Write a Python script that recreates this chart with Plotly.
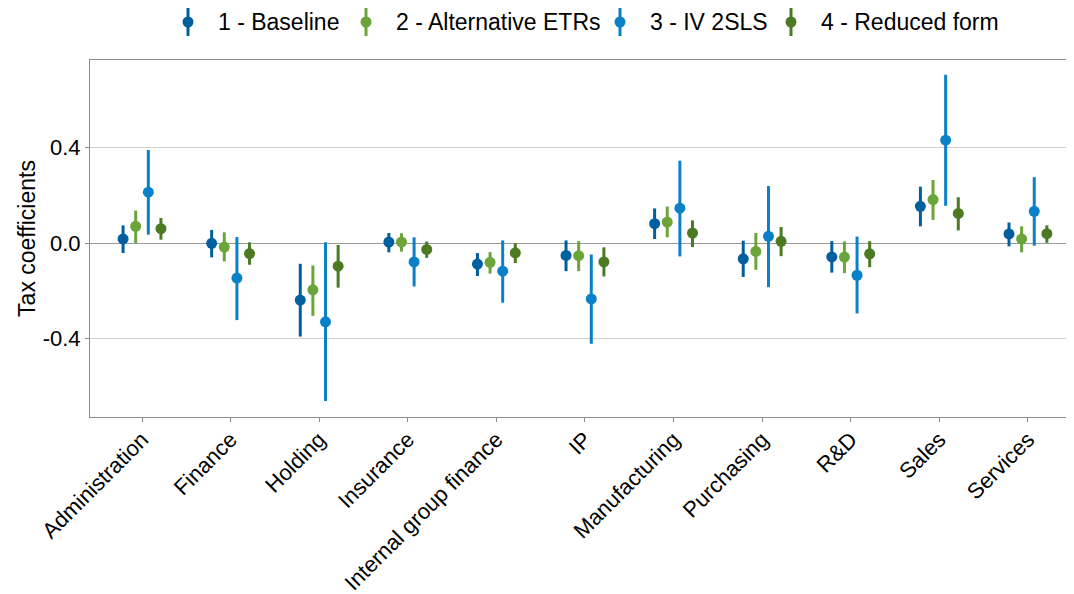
import plotly.graph_objects as go

categories = ["Administration", "Finance", "Holding", "Insurance", "Internal group finance",
              "IP", "Manufacturing", "Purchasing", "R&D", "Sales", "Services"]

series_names = ["1 - Baseline", "2 - Alternative ETRs", "3 - IV 2SLS", "4 - Reduced form"]
series_colors = ["#005F9E", "#6BA539", "#0A80C8", "#4B7A22"]

baseline_est = [0.017, -0.001, -0.239, 0.004, -0.088, -0.052, 0.081, -0.066, -0.058, 0.154, 0.038]
baseline_lo = [-0.042, -0.060, -0.392, -0.039, -0.138, -0.118, 0.017, -0.142, -0.124, 0.070, -0.014]
baseline_hi = [0.074, 0.055, -0.087, 0.042, -0.042, 0.011, 0.145, 0.010, 0.008, 0.236, 0.086]

alt_est = [0.070, -0.017, -0.196, 0.004, -0.081, -0.053, 0.088, -0.035, -0.059, 0.182, 0.017]
alt_lo = [0.000, -0.077, -0.305, -0.036, -0.128, -0.118, 0.024, -0.112, -0.126, 0.097, -0.039]
alt_hi = [0.136, 0.045, -0.094, 0.041, -0.038, 0.008, 0.153, 0.042, 0.007, 0.264, 0.070]

iv_est = [0.213, -0.147, -0.330, -0.079, -0.118, -0.234, 0.146, 0.028, -0.135, 0.431, 0.133]
iv_lo = [0.035, -0.323, -0.662, -0.182, -0.250, -0.422, -0.056, -0.185, -0.295, 0.156, -0.011]
iv_hi = [0.390, 0.025, 0.003, 0.024, 0.011, -0.048, 0.345, 0.239, 0.027, 0.705, 0.276]

rf_est = [0.060, -0.044, -0.097, -0.027, -0.041, -0.079, 0.042, 0.007, -0.045, 0.124, 0.039]
rf_lo = [0.014, -0.091, -0.187, -0.062, -0.084, -0.140, -0.017, -0.055, -0.101, 0.053, 0.001]
rf_hi = [0.105, 0.003, -0.008, 0.006, -0.001, -0.018, 0.095, 0.067, 0.008, 0.192, 0.074]

y_ticks = [-0.4, 0.0, 0.4]
y_ticklabels = ["-0.4", "0.0", "0.4"]

all_series = [
    (baseline_est, baseline_lo, baseline_hi),
    (alt_est, alt_lo, alt_hi),
    (iv_est, iv_lo, iv_hi),
    (rf_est, rf_lo, rf_hi),
]

# page body has an 8px margin, so figure is sized to end at the window edge
FIG_W, FIG_H = 1066, 586
M_L, M_T, M_B = 82, 52, 177
plot_w = FIG_W - M_L
plot_h = FIG_H - M_T - M_B

dodge = 0.57
n = len(all_series)
fig = go.Figure()
for k, ((est, lo, hi), name, color) in enumerate(zip(all_series, series_names, series_colors)):
    off = -dodge / 2 + dodge / n * (k + 0.5)
    xs = [i + 1 + off for i in range(len(categories))]
    fig.add_trace(go.Scatter(
        x=xs, y=est, mode="markers", name=name, showlegend=False,
        marker=dict(color=color, size=11, line=dict(width=0)),
        error_y=dict(type="data", symmetric=False,
                     array=[h - e for h, e in zip(hi, est)],
                     arrayminus=[e - l for e, l in zip(est, lo)],
                     color=color, thickness=3, width=0),
    ))

# manual legend (glyph = vertical line with dot, as in the reference)
legend_glyph_px = [180, 358, 612, 783]   # glyph x in figure pixels
legend_y_px = 14                          # legend centre y in figure pixels
shapes = []
annotations = []
for gx, name, color in zip(legend_glyph_px, series_names, series_colors):
    px = (gx - M_L) / plot_w
    py = (FIG_H - M_B - legend_y_px) / plot_h
    shapes.append(dict(type="line", xref="paper", yref="paper", xsizemode="pixel", ysizemode="pixel",
                       xanchor=px, yanchor=py, x0=0, x1=0, y0=-14, y1=14,
                       line=dict(color=color, width=3)))
    shapes.append(dict(type="circle", xref="paper", yref="paper", xsizemode="pixel", ysizemode="pixel",
                       xanchor=px, yanchor=py, x0=-5.5, x1=5.5, y0=-5.5, y1=5.5,
                       fillcolor=color, line=dict(width=0)))
    annotations.append(dict(text=name, xref="paper", yref="paper", x=(gx + 28 - M_L) / plot_w, y=py,
                            xanchor="left", yanchor="middle", showarrow=False,
                            font=dict(size=23, color="black")))

fig.update_layout(
    width=FIG_W, height=FIG_H,
    margin=dict(l=M_L, r=0, t=M_T, b=M_B, autoexpand=False),
    paper_bgcolor="white", plot_bgcolor="white",
    font=dict(family="Liberation Sans, Arial, sans-serif", size=22, color="black"),
    showlegend=False,
    shapes=shapes, annotations=annotations,
)
fig.update_xaxes(
    range=[0.413, 11.52], tickvals=list(range(1, len(categories) + 1)), ticktext=categories,
    tickangle=-45, showgrid=False, zeroline=False, automargin=False,
    showline=True, linecolor="#8c8c8c", linewidth=1, mirror=True,
    ticks="outside", ticklen=4, tickcolor="#8c8c8c", tickfont=dict(size=22),
    ticklabelstandoff=-4,
)
fig.update_yaxes(
    range=[-0.729, 0.767], tickvals=y_ticks, ticktext=y_ticklabels, automargin=False,
    showgrid=True, gridcolor="#d0d0d0", gridwidth=1,
    zeroline=True, zerolinecolor="#999999", zerolinewidth=1.3,
    showline=True, linecolor="#8c8c8c", linewidth=1, mirror=False,
    ticks="outside", ticklen=4, tickcolor="#8c8c8c", tickfont=dict(size=22),
    title=dict(text="Tax coefficients", font=dict(size=23), standoff=0),
)

fig.write_html("out.html")
